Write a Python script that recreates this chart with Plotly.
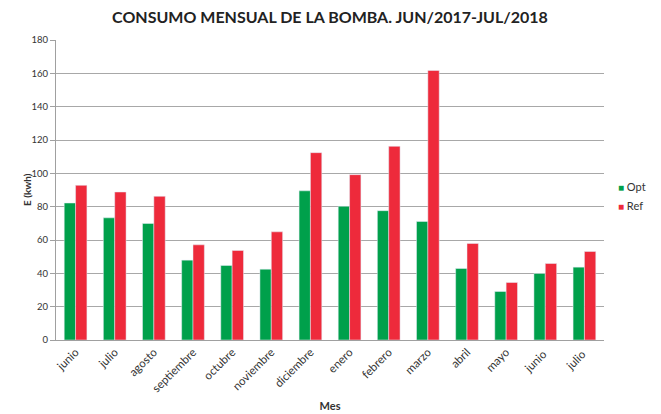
import plotly.graph_objects as go

meses = ["junio", "julio", "agosto", "septiembre", "octubre", "noviembre", "diciembre",
         "enero", "febrero", "marzo", "abril", "mayo", "junio ", "julio "]
opt = [82.2, 73.3, 69.9, 47.9, 44.7, 42.5, 89.5, 80.2, 77.6, 71.1, 42.9, 29.1, 39.9, 43.7]
ref = [92.8, 88.8, 86.2, 57.1, 53.7, 64.9, 112.4, 99.2, 116.2, 161.7, 57.9, 34.5, 45.9, 53.1]
y_ticks = [0, 20, 40, 60, 80, 100, 120, 140, 160, 180]
series_names = ["Opt", "Ref"]
series_colors = ["#00A04B", "#EE2A3B"]

fig = go.Figure()
fig.add_trace(go.Bar(x=meses, y=opt, name="Opt", marker_color=series_colors[0]))
fig.add_trace(go.Bar(x=meses, y=ref, name="Ref", marker_color=series_colors[1]))

# legend drawn as annotations to sit tight against the plot like the original
for i, (name, color) in enumerate(zip(series_names, series_colors)):
    fig.add_annotation(
        xref="paper", yref="paper", x=1.022, y=0.513 - i * 0.066,
        xanchor="left", yanchor="middle", showarrow=False,
        text=f"<span style='color:{color};font-size:10px'>■</span> {name}",
        font=dict(size=11, color="#333333"),
    )

# y title as an annotation so it can sit close to the tick labels
fig.add_annotation(
    xref="paper", yref="paper", x=0, y=0.5, xshift=-29,
    xanchor="center", yanchor="middle", showarrow=False, textangle=-90,
    text="<b>E (kwh)</b>", font=dict(size=10, color="#333333"),
)

# page body has an 8px margin, so the figure is a bit smaller than the window
fig.update_layout(
    width=653, height=406,
    barmode="group",
    bargap=0.42, bargroupgap=0,
    paper_bgcolor="white", plot_bgcolor="white",
    font=dict(family="Lato, Open Sans, sans-serif", color="#333333", size=10),
    title=dict(text="<b>CONSUMO MENSUAL DE LA BOMBA. JUN/2017-JUL/2018</b>",
               x=0.5, xanchor="center", xref="paper", y=0.978, yanchor="middle",
               font=dict(size=16, color="#222222")),
    margin=dict(l=48, r=57, t=32, b=74),
    showlegend=False,
)
fig.update_xaxes(
    tickangle=-45, tickfont=dict(size=11.5),
    showline=True, linecolor="#A0A0A0", linewidth=1,
    title=dict(text="<b>Mes</b>", font=dict(size=11), standoff=8),
    ticks="", automargin=False,
)
fig.update_yaxes(
    range=[0, 180], tickvals=y_ticks, tickfont=dict(size=9.5),
    showgrid=True, gridcolor="#A8A8A8", gridwidth=1,
    showline=True, linecolor="#A0A0A0", linewidth=1,
    ticks="outside", ticklen=5, tickcolor="#A0A0A0",
    zeroline=False, automargin=False,
)

fig.write_html("out.html")
